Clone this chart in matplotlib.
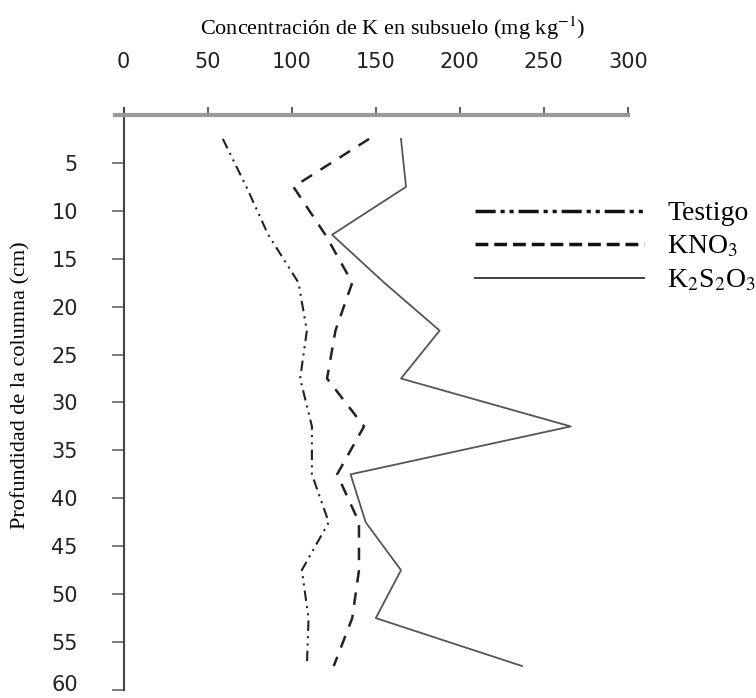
import numpy as np
import matplotlib
matplotlib.use("Agg")
import matplotlib.pyplot as plt
import matplotlib.transforms as mtransforms
from matplotlib.lines import Line2D

plt.rcParams['mathtext.fontset'] = 'stix'

# depth of each sample (cm) and K concentration (mg/kg)
depth = [2.5, 7.5, 12.5, 17.5, 22.5, 27.5, 32.5, 37.5, 42.5, 47.5, 52.5, 57.5]
testigo = [59, 73, 86, 104, 109, 105, 112, 112, 122, 106, 110, 109]
kno3 = [146, 101, 120, 136, 126, 121, 143, 127, 140, 140, 136, 125]
k2s2o3 = [165, 168, 124, 155, 188, 165, 266, 135, 144, 165, 150, 237]

xticks = [0, 50, 100, 150, 200, 250, 300]
yticks = [5, 10, 15, 20, 25, 30, 35, 40, 45, 50, 55, 60]
labels = ['Testigo', r'KNO$_3$', r'K$_2$S$_2$O$_3$']

fig = plt.figure(figsize=(7.56, 6.98), dpi=100)
ax = fig.add_axes([0.1525, 0.0115, 0.678, 0.8334])

ax.plot(testigo, depth, color='#222222', lw=1.5, linestyle=(0, (5, 2.5, 1, 2.5, 1, 2.5)))
ax.plot(kno3, depth, color='#222222', lw=1.8, linestyle=(0, (5, 4)))
ax.plot(k2s2o3, depth, color='#555555', lw=1.3)

ax.set_xlim(-5, 300)
ax.set_ylim(60, -0.7)
ax.spines['left'].set_position(('data', 0))
ax.spines['top'].set_position(('data', 0))
ax.spines['right'].set_visible(False)
ax.spines['bottom'].set_visible(False)
ax.spines['top'].set_color('#999999')
ax.spines['top'].set_linewidth(3)
ax.spines['left'].set_color('#444444')
ax.spines['left'].set_linewidth(1.5)

ax.xaxis.tick_top()
ax.set_xticks(xticks)
ax.set_yticks(yticks)
ax.tick_params(axis='x', direction='out', length=6, width=1.2, color='#444444',
               pad=25, labelsize=15, labelcolor='#222222')
ax.tick_params(axis='y', direction='out', length=9, width=1.2, color='#666666',
               pad=24, labelsize=15, labelcolor='#222222')

# lift the bottom "60" label a little so it stays inside the figure
lbl = ax.get_yticklabels()[-1]
lbl.set_transform(lbl.get_transform() +
                  mtransforms.ScaledTranslation(0, 5 / 72, fig.dpi_scale_trans))

fig.text(0.52, 0.96, r'Concentración de K en subsuelo (mg kg$^{-1}$)',
         ha='center', va='center', family='Liberation Serif', fontsize=16)
fig.text(0.027, 0.448, 'Profundidad de la columna (cm)', rotation=90,
         ha='center', va='center', family='Liberation Serif', fontsize=16)

handles = [
    Line2D([], [], color='#111111', lw=2.5, linestyle=(0, (5.8, 1.4, 1.2, 1.4, 1.2, 1.4))),
    Line2D([], [], color='#111111', lw=2.5, linestyle=(0, (3.7, 1.7))),
    Line2D([], [], color='#333333', lw=1.3),
]
leg = fig.legend(handles, labels, loc='upper left', bbox_to_anchor=(0.628, 0.712),
                 frameon=False, handlelength=6.1, handletextpad=0.83, labelspacing=0.28,
                 borderpad=0, borderaxespad=0,
                 prop={'family': 'Liberation Serif', 'size': 20})

fig.savefig('out.png', dpi=100)
